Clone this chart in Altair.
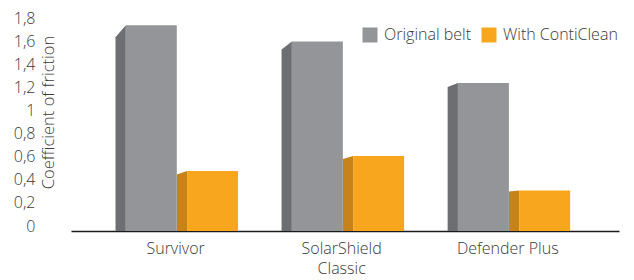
import altair as alt
import pandas as pd

# ---- data ----
categories = ["Survivor", "SolarShield\nClassic", "Defender Plus"]
series = ["Original belt", "With ContiClean"]
original_belt = [1.78, 1.64, 1.28]
with_conticlean = [0.52, 0.65, 0.35]
y_ticks = [0, 0.2, 0.4, 0.6, 0.8, 1.0, 1.2, 1.4, 1.6, 1.8]

# ---- style ----
front_colors = ["#939598", "#f7a61d"]
side_colors = ["#6d6e71", "#c8821a"]
FRONT_W = 0.307
SIDE_W = 0.062
FONT = "Open Sans"
TEXT_COLOR = "#3a3a3a"
FS = 16

front_rows, side_rows = [], []
for i, cat in enumerate(categories):
    slant = 0.058 - 0.016 * i  # perspective drop of the side face
    for s, vals in enumerate([original_belt, with_conticlean]):
        v = vals[i]
        side_left = i - SIDE_W + s * (FRONT_W + SIDE_W)
        front_left = side_left + SIDE_W
        bar_id = f"{i}-{s}"
        front_rows.append({"x": front_left, "x2": front_left + FRONT_W, "y": v,
                           "base": 0, "series": series[s]})
        side_rows.append({"x": side_left, "y": v * (1 - slant), "base": 0,
                          "bar": bar_id, "col": side_colors[s]})
        side_rows.append({"x": front_left, "y": v, "base": 0,
                          "bar": bar_id, "col": side_colors[s]})

front_df = pd.DataFrame(front_rows)
side_df = pd.DataFrame(side_rows)
label_df = pd.DataFrame({"x": [i + 0.3 for i in range(len(categories))],
                         "text": categories})

xs = alt.Scale(domain=[-0.33, 2.97], nice=False, zero=False)
ys = alt.Scale(domain=[0, 1.8], nice=False)

x_axis = alt.Axis(labels=False, ticks=False, grid=False, title=None,
                  domainColor="#1a1a1a", domainWidth=1.3)
y_axis = alt.Axis(values=y_ticks,
                  labelExpr="replace(format(datum.value, '~g'), '.', ',')",
                  domain=False, ticks=False, grid=False,
                  labelPadding=36, labelFontSize=FS, labelFont=FONT,
                  labelColor=TEXT_COLOR, labelOffset=-5, labelFlush=False,
                  labelFontWeight=300,
                  title="Coefficient of friction", titleX=-23, titleY=89,
                  titleAngle=270, titleAlign="center", titleBaseline="middle",
                  titleFontSize=16.5, titleFont=FONT, titleColor=TEXT_COLOR,
                  titleFontWeight=300)

sides = alt.Chart(side_df).mark_area(interpolate="linear").encode(
    x=alt.X("x:Q", scale=xs, axis=x_axis),
    y=alt.Y("y:Q", scale=ys, axis=y_axis),
    y2=alt.Y2("base:Q"),
    detail="bar:N",
    color=alt.Color("col:N", scale=None),
)

fronts = alt.Chart(front_df).mark_rect().encode(
    x=alt.X("x:Q", scale=xs, axis=x_axis),
    x2="x2:Q",
    y=alt.Y("y:Q", scale=ys, axis=y_axis),
    y2="base:Q",
    color=alt.Color("series:N",
                    scale=alt.Scale(domain=series, range=front_colors),
                    legend=alt.Legend(orient="none", legendX=291, legendY=4,
                                      direction="horizontal", title=None,
                                      symbolType="square", symbolSize=225,
                                      symbolStrokeWidth=0, symbolOpacity=1,
                                      labelFontSize=FS, labelFont=FONT,
                                      labelColor=TEXT_COLOR, labelFontWeight=300,
                                      columnPadding=10, labelOffset=6,
                                      padding=0)),
)

labels = alt.Chart(label_df).mark_text(
    lineBreak="\n", baseline="top", align="center", fontSize=FS, font=FONT,
    fontWeight=300, color=TEXT_COLOR, lineHeight=20,
).encode(
    x=alt.X("x:Q", scale=xs),
    y=alt.value(218),
    text="text:N",
)

chart = alt.layer(sides, fronts, labels).properties(
    width=548, height=208,
    autosize=alt.AutoSizeParams(type="none"),
    padding={"left": 63, "top": 15, "right": 7, "bottom": 48},
    background="white",
).configure_view(stroke=None)

chart.save("out.html", embed_options={"renderer": "svg", "actions": False})
